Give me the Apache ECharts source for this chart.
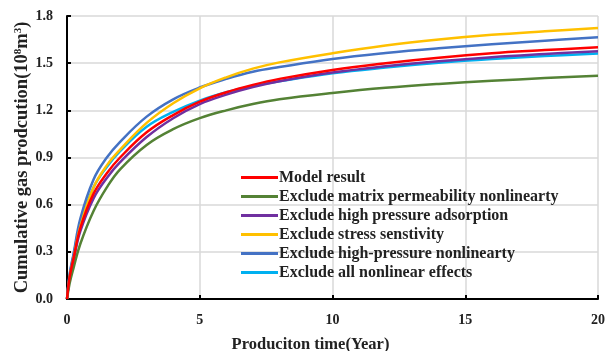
<!DOCTYPE html>
<html>
<head>
<meta charset="utf-8">
<script src="https://cdn.jsdelivr.net/npm/echarts@6/dist/echarts.min.js"></script>
<style>
html,body{margin:0;padding:0;background:#fff;}
#chart{width:606px;height:351px;}
</style>
</head>
<body>
<div id="chart"></div>
<script>
const years = [0, 0.1, 0.25, 0.5, 1, 1.5, 2, 3, 4, 5, 6, 7, 8, 10, 12, 14, 16, 18, 20];
const modelResult =      [0, 0.14, 0.26, 0.45, 0.67, 0.80, 0.90, 1.06, 1.17, 1.255, 1.315, 1.362, 1.40, 1.457, 1.50, 1.535, 1.563, 1.583, 1.602];
const exclMatrixPerm =   [0, 0.10, 0.20, 0.35, 0.56, 0.71, 0.825, 0.98, 1.08, 1.15, 1.20, 1.24, 1.27, 1.31, 1.343, 1.368, 1.388, 1.405, 1.42];
const exclAdsorption =   [0, 0.13, 0.25, 0.43, 0.64, 0.77, 0.87, 1.03, 1.15, 1.24, 1.30, 1.348, 1.385, 1.44, 1.48, 1.512, 1.538, 1.558, 1.576];
const exclStress =       [0, 0.14, 0.26, 0.46, 0.71, 0.85, 0.95, 1.12, 1.245, 1.34, 1.41, 1.465, 1.505, 1.563, 1.612, 1.65, 1.68, 1.703, 1.724];
const exclHighPressure = [0, 0.16, 0.29, 0.51, 0.76, 0.90, 1.00, 1.16, 1.27, 1.345, 1.40, 1.445, 1.475, 1.527, 1.565, 1.595, 1.62, 1.643, 1.665];
const exclAll =          [0, 0.15, 0.28, 0.48, 0.71, 0.84, 0.94, 1.095, 1.19, 1.262, 1.315, 1.355, 1.385, 1.436, 1.472, 1.502, 1.526, 1.545, 1.562];

const seriesNames = [
  'Model result',
  'Exclude matrix permeability nonlinearty',
  'Exclude high pressure adsorption',
  'Exclude stress senstivity',
  'Exclude high-pressure nonlinearty',
  'Exclude all nonlinear effects'
];
const seriesValues = [modelResult, exclMatrixPerm, exclAdsorption, exclStress, exclHighPressure, exclAll];
const colors = ['#FF0000', '#548235', '#7030A0', '#FFC000', '#4472C4', '#00B0F0'];
const xTicks = [0, 5, 10, 15, 20];
const yTicks = [0, 0.3, 0.6, 0.9, 1.2, 1.5, 1.8];

const font = '"Liberation Serif", "Times New Roman", serif';
const chart = echarts.init(document.getElementById('chart'));
const series = seriesNames.map((name, i) => ({
  name: name,
  type: 'line',
  smooth: 0.4,
  showSymbol: false,
  data: years.map((t, j) => [t, seriesValues[i][j]]),
  lineStyle: { width: 2.5, color: colors[i] },
  itemStyle: { color: colors[i] },
  z: 10 - i
}));

chart.setOption({
  animation: false,
  backgroundColor: '#fff',
  grid: { left: 67, right: 8, top: 16, bottom: 52, containLabel: false, outerBoundsMode: 'none' },
  legend: {
    orient: 'vertical',
    left: 236,
    top: 164,
    icon: 'rect',
    itemWidth: 37,
    itemHeight: 3,
    itemGap: 2,
    textStyle: { fontFamily: font, fontWeight: 'bold', fontSize: 16, lineHeight: 17, color: '#222', padding: [0, 0, 0, -4] },
    data: seriesNames
  },
  xAxis: {
    type: 'value',
    min: xTicks[0],
    max: xTicks[xTicks.length - 1],
    interval: 5,
    name: 'Produciton time(Year)',
    nameLocation: 'middle',
    nameGap: 37,
    nameMoveOverlap: false,
    nameTextStyle: { fontFamily: font, fontWeight: 'bold', fontSize: 16.5, color: '#222', padding: [0, 44, 0, 0] },
    axisLine: { show: true, lineStyle: { color: '#000', width: 2 } },
    axisTick: { show: true, inside: true, length: 4, lineStyle: { color: '#000', width: 2 } },
    axisLabel: { fontFamily: font, fontWeight: 'bold', fontSize: 14, color: '#222', margin: 14 },
    splitLine: { show: true, lineStyle: { color: '#d9d9d9', width: 1.5 } }
  },
  yAxis: {
    type: 'value',
    min: yTicks[0],
    max: yTicks[yTicks.length - 1],
    interval: 0.3,
    name: '{a|Cumulative gas prodcution(10}{s|8}{a|m}{s|3}{a|)}',
    nameLocation: 'middle',
    nameGap: 35,
    nameMoveOverlap: false,
    nameTextStyle: {
      rich: {
        a: { fontFamily: font, fontWeight: 'bold', fontSize: 18.5, color: '#222' },
        s: { fontFamily: font, fontWeight: 'bold', fontSize: 11, color: '#222', verticalAlign: 'top', padding: [0, 0, 7, 0] }
      }
    },
    axisLine: { show: true, lineStyle: { color: '#000', width: 2 } },
    axisTick: { show: true, inside: true, length: 4, lineStyle: { color: '#000', width: 2 } },
    axisLabel: { fontFamily: font, fontWeight: 'bold', fontSize: 14, color: '#222', margin: 14, formatter: v => v.toFixed(1) },
    splitLine: { show: true, lineStyle: { color: '#d9d9d9', width: 1.5 } }
  },
  series: series
});
</script>
</body>
</html>
